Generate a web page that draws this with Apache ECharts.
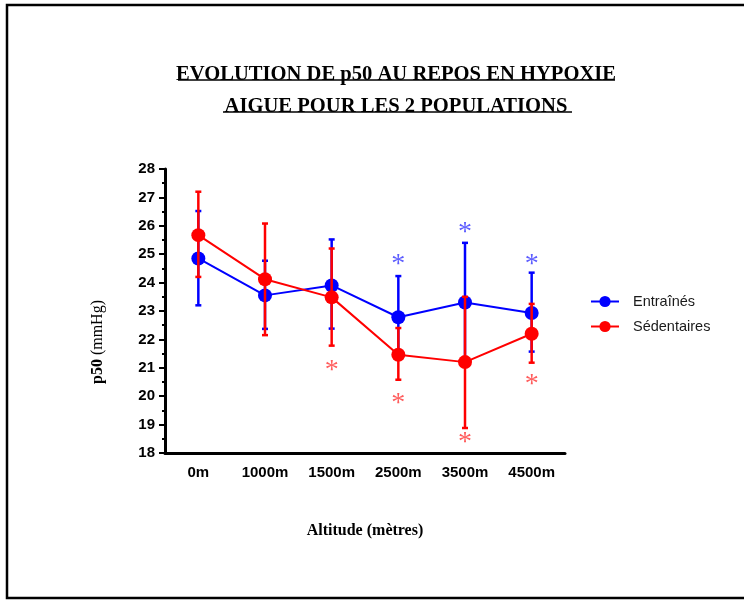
<!DOCTYPE html>
<html>
<head>
<meta charset="utf-8">
<script src="https://cdn.jsdelivr.net/npm/echarts@6/dist/echarts.min.js"></script>
<style>
  html, body { margin: 0; padding: 0; background: #fff; }
  #chart { width: 744px; height: 600px; }
</style>
</head>
<body>
<div id="chart"></div>
<script>
// altitudes
const categories = ['0m', '1000m', '1500m', '2500m', '3500m', '4500m'];

// Entraînés (bleu)
const entraines = [24.85, 23.55, 23.9, 22.78, 23.3, 22.93];
const entrainesHigh = [26.52, 24.77, 25.52, 24.23, 25.4, 24.35];
const entrainesLow = [23.2, 22.37, 22.38, 21.35, 21.2, 21.57];

// Sédentaires (rouge)
const sedentaires = [25.67, 24.12, 23.48, 21.46, 21.2, 22.2];
const sedentairesHigh = [27.2, 26.08, 25.2, 22.4, 23.5, 23.25];
const sedentairesLow = [24.2, 22.15, 21.78, 20.58, 18.88, 21.18];

// asterisques de significativité (null = pas d'asterisque)
const starsEntraines = [null, null, null, 24.8, 25.95, 24.8];
const starsSedentaires = [null, null, 21.07, 19.93, 18.54, 20.6];

const BLUE = '#0000ff';
const RED = '#ff0000';

const chart = echarts.init(document.getElementById('chart'));

// barres d'erreur dessinées avec une série custom
function errorBars(name, high, low, color, z) {
  return {
    type: 'custom',
    name: name,
    z: z,
    data: categories.map((c, i) => [i, low[i], high[i]]),
    renderItem: (params, api) => {
      const top = api.coord([api.value(0), api.value(2)]);
      const bot = api.coord([api.value(0), api.value(1)]);
      const half = 3;
      const style = { stroke: color, lineWidth: 2.5 };
      return {
        type: 'group',
        children: [
          { type: 'line', shape: { x1: top[0], y1: top[1], x2: bot[0], y2: bot[1] }, style: style },
          { type: 'line', shape: { x1: top[0] - half, y1: top[1], x2: top[0] + half, y2: top[1] }, style: style },
          { type: 'line', shape: { x1: bot[0] - half, y1: bot[1], x2: bot[0] + half, y2: bot[1] }, style: style }
        ]
      };
    }
  };
}

function stars(name, values, color) {
  return {
    type: 'scatter',
    name: name,
    z: 6,
    symbolSize: 0,
    silent: true,
    data: values.map((v, i) => (v === null ? null : [i, v])).filter(d => d),
    label: {
      show: true,
      position: 'inside',
      offset: [0, 5],
      formatter: '*',
      color: color,
      fontFamily: 'Liberation Serif',
      fontSize: 28
    }
  };
}

function lineSeries(name, values, color, z) {
  return {
    type: 'line',
    name: name,
    z: z,
    data: values,
    symbol: 'circle',
    symbolSize: 14,
    lineStyle: { color: color, width: 2 },
    itemStyle: { color: color },
    emphasis: { disabled: true }
  };
}

const option = {
  animation: false,
  backgroundColor: '#fff',
  title: {
    text: 'EVOLUTION DE p50 AU REPOS EN HYPOXIE\nAIGUE POUR LES 2 POPULATIONS',
    left: 391,
    top: 54,
    textAlign: 'center',
    textStyle: {
      fontFamily: 'Liberation Serif',
      fontWeight: 'bold',
      fontSize: 20.6,
      lineHeight: 32,
      color: '#000'
    }
  },
  legend: {
    data: ['Entraînés', 'Sédentaires'],
    orient: 'vertical',
    left: 585,
    top: 289,
    itemWidth: 28,
    itemHeight: 14,
    itemGap: 10,
    textStyle: {
      fontFamily: 'Liberation Sans',
      fontSize: 14.5,
      color: '#1a1a1a',
      padding: [0, 0, 0, 9]
    }
  },
  grid: {
    left: 165,
    right: 179,
    top: 169,
    bottom: 147
  },
  xAxis: {
    type: 'category',
    data: categories,
    boundaryGap: true,
    name: 'Altitude (mètres)',
    nameLocation: 'middle',
    nameGap: 70,
    nameTextStyle: {
      fontFamily: 'Liberation Serif',
      fontWeight: 'bold',
      fontSize: 16,
      color: '#000'
    },
    axisLine: { lineStyle: { color: '#000', width: 3 } },
    axisTick: { alignWithLabel: true, length: 3, lineStyle: { color: '#000', width: 2 } },
    axisLabel: {
      margin: 12,
      fontFamily: 'Liberation Sans',
      fontWeight: 'bold',
      fontSize: 15,
      color: '#000'
    },
    splitLine: { show: false }
  },
  yAxis: {
    type: 'value',
    min: 18,
    max: 28,
    interval: 1,
    axisLine: { show: true, lineStyle: { color: '#000', width: 3 } },
    axisTick: { show: true, length: 6, lineStyle: { color: '#000', width: 2 } },
    minorTick: { show: true, splitNumber: 2, length: 3, lineStyle: { color: '#000', width: 2 } },
    axisLabel: {
      margin: 10,
      fontFamily: 'Liberation Sans',
      fontWeight: 'bold',
      fontSize: 15,
      color: '#000'
    },
    splitLine: { show: false }
  },
  graphic: [
    {
      type: 'rect',
      shape: { x: 7, y: 5, width: 780, height: 593 },
      style: { fill: 'none', stroke: '#000', lineWidth: 2.5 },
      silent: true
    },
    {
      type: 'line',
      shape: { x1: 178, y1: 80, x2: 615, y2: 80 },
      style: { stroke: '#000', lineWidth: 1.5 }
    },
    {
      type: 'line',
      shape: { x1: 223, y1: 112, x2: 572, y2: 112 },
      style: { stroke: '#000', lineWidth: 1.5 }
    },
    {
      type: 'text',
      x: 98,
      y: 342,
      rotation: Math.PI / 2,
      style: {
        text: '{b|p50} (mmHg)',
        align: 'center',
        verticalAlign: 'middle',
        fontFamily: 'Liberation Serif',
        fontSize: 16,
        fill: '#000',
        rich: {
          b: { fontFamily: 'Liberation Serif', fontWeight: 'bold', fontSize: 16, fill: '#000' }
        }
      }
    }
  ],
  series: [
    errorBars('errEntraines', entrainesHigh, entrainesLow, BLUE, 1),
    lineSeries('Entraînés', entraines, BLUE, 2),
    errorBars('errSedentaires', sedentairesHigh, sedentairesLow, RED, 3),
    lineSeries('Sédentaires', sedentaires, RED, 4),
    stars('starsEntraines', starsEntraines, '#3333ff'),
    stars('starsSedentaires', starsSedentaires, '#ff3333')
  ]
};

chart.setOption(option);
</script>
</body>
</html>
